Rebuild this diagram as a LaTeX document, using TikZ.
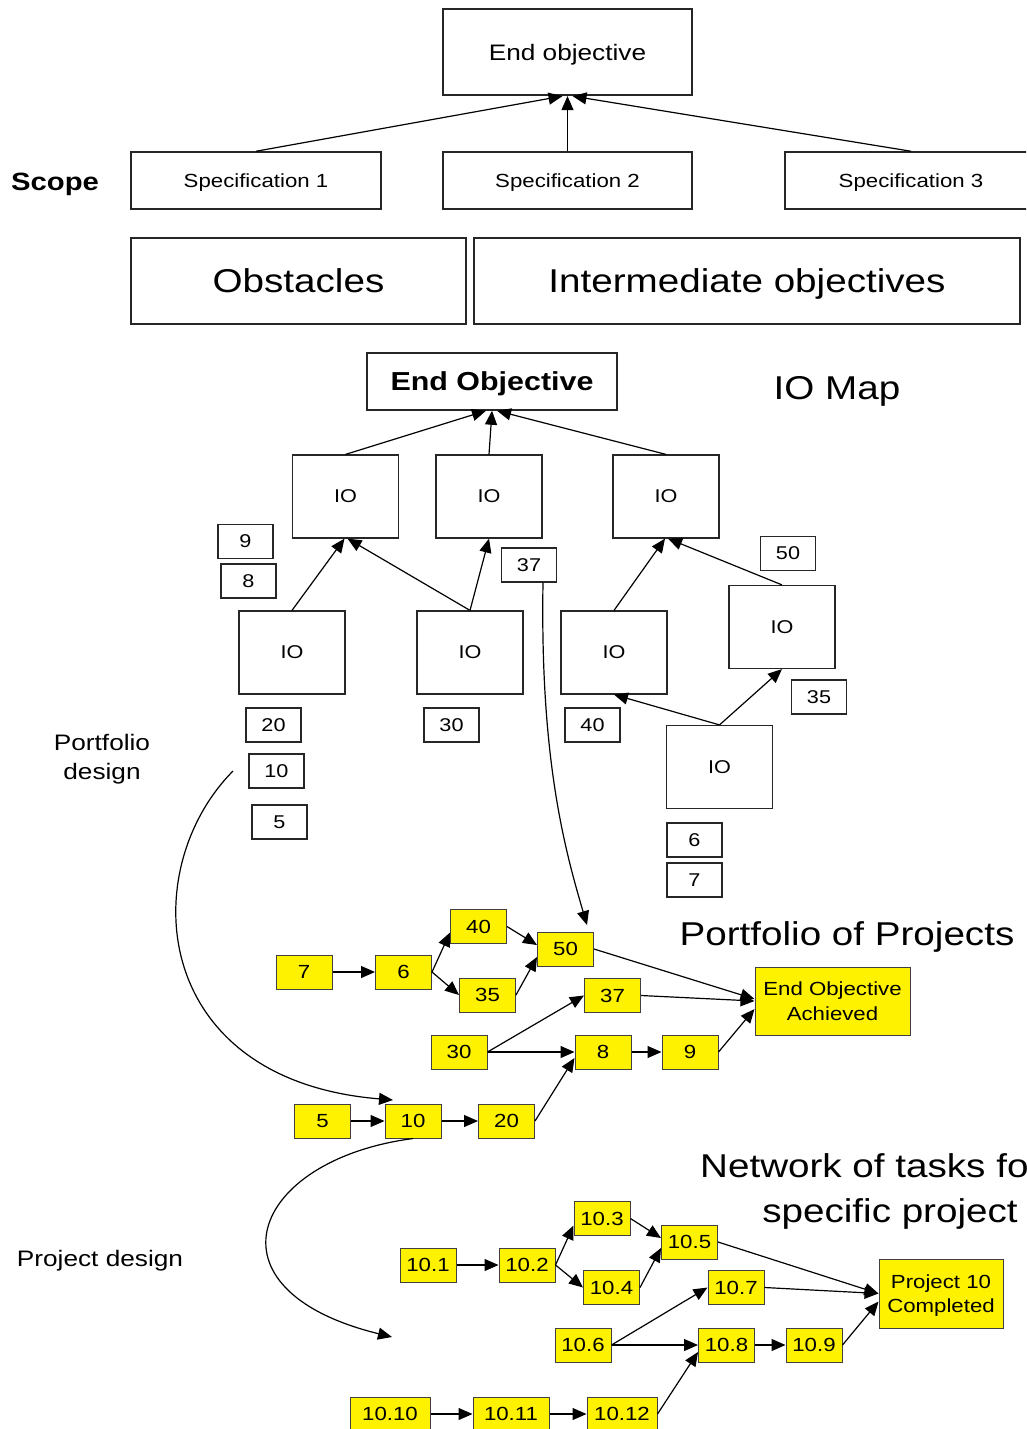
\documentclass[tikz,border=0pt]{standalone}
\usepackage{fontspec}
\setmainfont{Liberation Sans}[FakeStretch=1.17]
\usetikzlibrary{arrows.meta,calc}
\tikzset{
  wb/.style={draw=black!85, line width=1.2, fill=white, inner sep=0pt, align=center, text depth=0pt},
  yb/.style={draw=black!75, line width=1, fill=yellow, inner sep=0pt, align=center, text depth=0pt, font=\fontsize{19}{24}\selectfont},
  io/.style={wb, minimum width=106, minimum height=83, font=\fontsize{18.5}{22}\selectfont},
  nb/.style={wb, minimum width=55, minimum height=34, font=\fontsize{18.5}{22}\selectfont},
  yn/.style={yb, minimum width=56, minimum height=34},
  arr/.style={-{Triangle[length=14pt,width=12pt]}, line width=1.2},
  big/.style={font=\fontsize{33}{40}\selectfont, inner sep=0pt, align=center, text depth=0pt},
  lbl/.style={font=\fontsize{22.4}{29}\selectfont, align=center, inner sep=0pt, text depth=0pt},
  topbox/.style={wb, line width=1.5, font=\fontsize{19}{23}\selectfont},
}
\begin{document}
\begin{tikzpicture}[x=1pt,y=-1pt]
\useasboundingbox (0,0) rectangle (1026,1429);
\clip (0,0) rectangle (1026,1429);
\fill[white] (0,0) rectangle (1026,1429);

% ---------- Scope ----------
\node[topbox, line width=2.2, minimum width=249, minimum height=86, font=\fontsize{22.4}{26}\selectfont] (eo1) at (567.5,52) {End objective};
\node[topbox, minimum width=250, minimum height=57] (s1) at (256,180.5) {Specification 1};
\node[topbox, minimum width=249, minimum height=57] (s2) at (567.5,180.5) {Specification 2};
\node[topbox, minimum width=252, minimum height=57] (s3) at (911,180.5) {Specification 3};
\node[font=\fontsize{25}{30}\selectfont\bfseries, inner sep=0pt, text depth=0pt] (scope) at (55,182) {Scope};
\draw[arr] (s1.north) -- ($(eo1.south)+(-5,0)$);
\draw[arr] (s2.north) -- (eo1.south);
\draw[arr] (s3.north) -- ($(eo1.south)+(5,0)$);

\node[topbox, minimum width=335, minimum height=86, font=\fontsize{33}{40}\selectfont] (obs) at (298.5,281) {Obstacles};
\node[topbox, minimum width=546, minimum height=86, font=\fontsize{33}{40}\selectfont] (iobj) at (747,281) {Intermediate objectives};

% ---------- IO map ----------
\node[topbox, minimum width=250, minimum height=57, font=\fontsize{26}{30}\selectfont\bfseries] (eo2) at (492,381.5) {End Objective};
\node[big] (iomap) at (837,388) {IO Map};

\node[io] (ioa) at (345.5,496.5) {IO};
\node[io] (iob) at (489,496.5) {IO};
\node[io] (ioc) at (666,496.5) {IO};
\node[io] (iod) at (292,652.5) {IO};
\node[io] (ioe) at (470,652.5) {IO};
\node[io] (iof) at (614,652.5) {IO};
\node[io] (iog) at (782,627) {IO};
\node[io] (ioh) at (719.5,767) {IO};

\node[nb] (n9) at (245.5,541.5) {9};
\node[nb] (n8) at (248.5,581) {8};
\node[nb] (n37) at (529,565) {37};
\node[nb] (n50) at (788,553.5) {50};
\node[nb] (n20) at (273.5,725) {20};
\node[nb] (n30) at (451.5,725) {30};
\node[nb] (n40) at (592.5,725) {40};
\node[nb] (n35) at (819,697) {35};
\node[nb] (n10) at (276.5,771) {10};
\node[nb] (n5) at (279.5,822) {5};
\node[nb] (n6) at (694.5,840) {6};
\node[nb] (n7) at (694.5,880) {7};

\draw[arr] (ioa.north) -- ($(eo2.south)+(-6,0)$);
\draw[arr] (iob.north) -- (eo2.south);
\draw[arr] (ioc.north) -- ($(eo2.south)+(5,0)$);
\draw[arr] (iod.north) -- ($(ioa.south)+(-1,0)$);
\draw[arr] (ioe.north) -- ($(ioa.south)+(2,0)$);
\draw[arr] (ioe.north) -- (iob.south);
\draw[arr] (iof.north) -- ($(ioc.south)+(-1,0)$);
\draw[arr] (iog.north) -- ($(ioc.south)+(2,0)$);
\draw[arr] (ioh.north) -- (iof.south);
\draw[arr] (ioh.north) -- (iog.south);

\node[lbl] (pdes) at (102,757) {Portfolio\\design};
\coordinate (c1s) at (233,771);
\coordinate (c1e) at (393,1100);
\draw[arr] (c1s) .. controls (135,870) and (150,1080) .. (c1e);
\coordinate (c2e) at (587,925);
\draw[arr] ($(n37.south)+(14,0)$) .. controls (540,760) and (565,850) .. (c2e);

% ---------- Portfolio of projects ----------
\node[big] (pop) at (847,934) {Portfolio of Projects};
\node[yn] (p7) at (304,972) {7};
\node[yn] (p6) at (403.5,972) {6};
\node[yn] (p40) at (478.5,926.5) {40};
\node[yn] (p35) at (487.5,995) {35};
\node[yn] (p50) at (565.5,949) {50};
\node[yn] (p37) at (612.5,995.5) {37};
\node[yn] (p30) at (459,1052) {30};
\node[yn] (p8) at (603,1052) {8};
\node[yn] (p9) at (690,1052) {9};
\node[yn] (p5) at (322.5,1121) {5};
\node[yn] (p10) at (413,1121) {10};
\node[yn] (p20) at (506.5,1121) {20};
\node[yb, minimum width=155, minimum height=68, font=\fontsize{19}{25}\selectfont] (peo) at (832.5,1001) {End Objective\\Achieved};

\draw[arr] (p7.east) -- (p6.west);
\draw[arr] (p6.east) -- ($(p40.west)+(0,6)$);
\draw[arr] (p6.east) -- (p35.west);
\draw[arr] (p40.east) -- ($(p50.west)+(0,-4)$);
\draw[arr] (p35.east) -- ($(p50.west)+(0,8)$);
\draw[arr] (p50.east) -- ($(peo.west)+(0,-2)$);
\draw[arr] (p37.east) -- (peo.west);
\draw[arr] (p9.east) -- ($(peo.west)+(0,8)$);
\draw[arr] (p30.east) -- (p37.west);
\draw[arr] (p30.east) -- (p8.west);
\draw[arr] (p8.east) -- (p9.west);
\draw[arr] (p5.east) -- (p10.west);
\draw[arr] (p10.east) -- (p20.west);
\draw[arr] (p20.east) -- ($(p8.west)+(0,6)$);

\coordinate (c3e) at (392,1337);
\draw[arr] (p10.south) .. controls (250,1160) and (200,1290) .. (c3e);
\node[lbl] (prdes) at (100,1258) {Project design};

% ---------- Network of tasks ----------
\node[big, anchor=west] (net1) at (700,1166) {Network of tasks fo};
\node[big] (net2) at (890,1211) {specific project};

\node[yn] (t1) at (428,1265) {10.1};
\node[yn] (t2) at (527,1265) {10.2};
\node[yn] (t3) at (602,1218.5) {10.3};
\node[yn] (t4) at (611.5,1287.5) {10.4};
\node[yn] (t5) at (689.5,1242) {10.5};
\node[yn] (t7) at (736,1287.5) {10.7};
\node[yn] (t6) at (583,1345) {10.6};
\node[yn] (t8) at (726.5,1345) {10.8};
\node[yn] (t9) at (814,1345) {10.9};
\node[yb, minimum width=80, minimum height=34] (t10) at (390,1414) {10.10};
\node[yb, minimum width=76, minimum height=34] (t11) at (511,1414) {10.11};
\node[yb, minimum width=70, minimum height=34] (t12) at (622,1414) {10.12};
\node[yb, minimum width=124, minimum height=69, font=\fontsize{19}{24}\selectfont] (pc) at (941,1293.5) {Project 10\\Completed};

\draw[arr] (t1.east) -- (t2.west);
\draw[arr] (t2.east) -- ($(t3.west)+(0,7)$);
\draw[arr] (t2.east) -- (t4.west);
\draw[arr] (t3.east) -- ($(t5.west)+(0,-4)$);
\draw[arr] (t4.east) -- ($(t5.west)+(0,6)$);
\draw[arr] (t5.east) -- (pc.west);
\draw[arr] (t7.east) -- (pc.west);
\draw[arr] (t6.east) -- (t7.west);
\draw[arr] (t6.east) -- (t8.west);
\draw[arr] (t8.east) -- (t9.west);
\draw[arr] (t9.east) -- ($(pc.west)+(0,8)$);
\draw[arr] (t10.east) -- (t11.west);
\draw[arr] (t11.east) -- (t12.west);
\draw[arr] (t12.east) -- ($(t8.west)+(0,7)$);
\end{tikzpicture}
\end{document}
